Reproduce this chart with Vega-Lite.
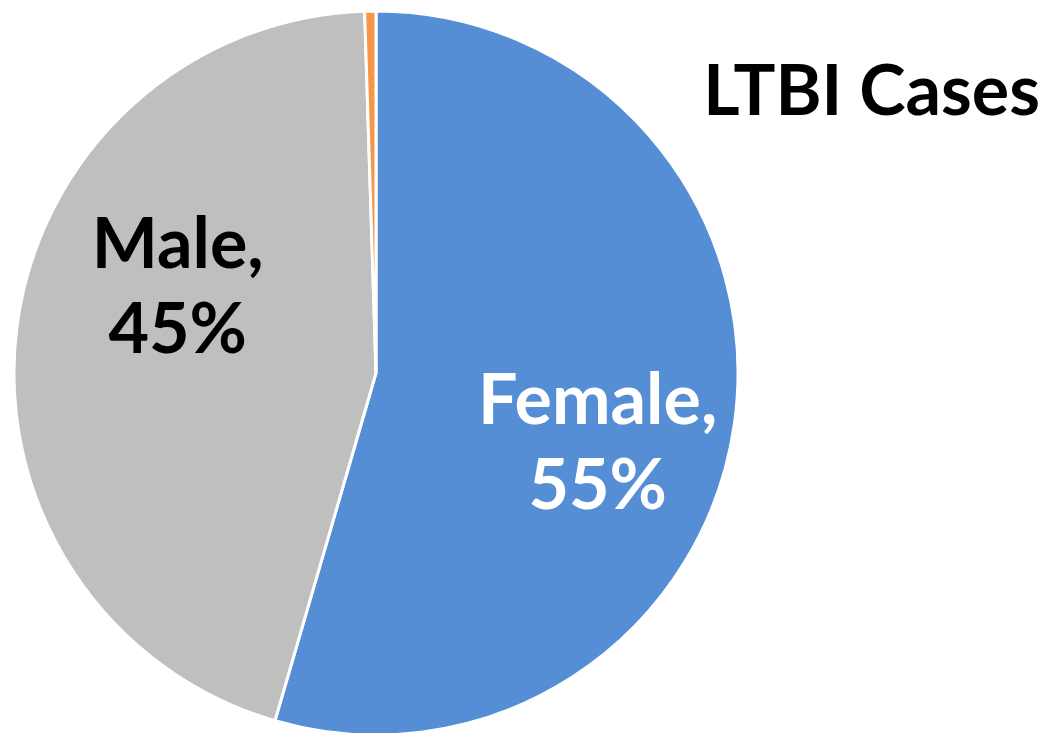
{
  "$schema": "https://vega.github.io/schema/vega-lite/v6.json",
  "width": 752,
  "height": 746,
  "autosize": {"type": "none"},
  "padding": {"left": 0, "top": 0, "right": 304, "bottom": 0},
  "background": "white",
  "view": {"stroke": null},
  "title": {
    "text": "LTBI Cases",
    "orient": "top",
    "anchor": "end",
    "align": "right",
    "baseline": "alphabetic",
    "font": "Lato",
    "fontSize": 70,
    "fontWeight": "bold",
    "color": "black",
    "dx": 288,
    "dy": 189
  },
  "data": {
    "values": [
      {"category": "Female", "value": 54.5, "label": "Female,\n55%"},
      {"category": "Male", "value": 45.0, "label": "Male,\n45%"},
      {"category": "Unknown", "value": 0.5, "label": ""}
    ]
  },
  "layer": [
    {
      "mark": {"type": "arc", "outerRadius": 362, "stroke": "white", "strokeWidth": 3},
      "encoding": {
        "theta": {"field": "value", "type": "quantitative", "stack": true},
        "order": {"field": "category", "sort": "ascending"},
        "color": {
          "field": "category",
          "type": "nominal",
          "scale": {"domain": ["Female", "Male", "Unknown"], "range": ["#558ED5", "#BFBFBF", "#F79646"]},
          "legend": null
        }
      }
    },
    {
      "mark": {"type": "text", "radius": 232, "dx": -8, "dy": -3, "font": "Lato", "fontSize": 70, "fontWeight": "bold", "lineBreak": "\n", "lineHeight": 85, "align": "center", "baseline": "middle", "color": "white"},
      "encoding": {
        "theta": {"field": "value", "type": "quantitative", "stack": true},
        "order": {"field": "category", "sort": "ascending"},
        "text": {"condition": {"test": "datum.category === 'Female'", "field": "label"}, "value": ""}
      }
    },
    {
      "mark": {"type": "text", "radius": 215, "dx": 15, "dy": -99, "font": "Lato", "fontSize": 70, "fontWeight": "bold", "lineBreak": "\n", "lineHeight": 85, "align": "center", "baseline": "middle", "color": "black"},
      "encoding": {
        "theta": {"field": "value", "type": "quantitative", "stack": true},
        "order": {"field": "category", "sort": "ascending"},
        "text": {"condition": {"test": "datum.category === 'Male'", "field": "label"}, "value": ""}
      }
    }
  ]
}
